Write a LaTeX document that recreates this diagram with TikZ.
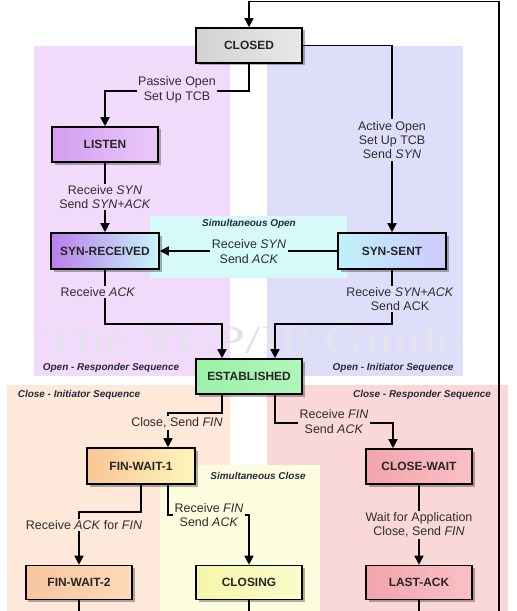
\documentclass[tikz,border=0pt]{standalone}
\usepackage{fontspec}
\setmainfont{Liberation Sans}
\newfontfamily\wmfont{Liberation Serif}
\usetikzlibrary{arrows.meta,shadows}
\definecolor{purplebg}{RGB}{242,218,250}
\definecolor{bluebg}{RGB}{222,222,250}
\definecolor{cyanbg}{RGB}{214,250,250}
\definecolor{peachbg}{RGB}{253,232,218}
\definecolor{pinkbg}{RGB}{251,216,216}
\definecolor{yellowbg}{RGB}{252,252,222}
\definecolor{regtext}{RGB}{40,40,64}
\definecolor{lbltext}{RGB}{45,45,45}
\definecolor{grayL}{RGB}{210,210,210}
\definecolor{grayR}{RGB}{232,232,232}
\definecolor{listenL}{RGB}{212,158,240}
\definecolor{listenR}{RGB}{234,200,248}
\definecolor{synrL}{RGB}{186,126,234}
\definecolor{synrR}{RGB}{200,246,250}
\definecolor{synsL}{RGB}{190,242,250}
\definecolor{synsR}{RGB}{208,200,250}
\definecolor{estL}{RGB}{156,240,168}
\definecolor{estR}{RGB}{178,246,186}
\definecolor{fw1L}{RGB}{250,198,150}
\definecolor{fw1R}{RGB}{252,246,186}
\definecolor{fw2L}{RGB}{248,198,158}
\definecolor{fw2R}{RGB}{252,218,186}
\definecolor{clsL}{RGB}{246,246,170}
\definecolor{clsR}{RGB}{252,252,204}
\definecolor{pinkL}{RGB}{242,164,172}
\definecolor{pinkR}{RGB}{250,192,198}
\definecolor{wmcol}{RGB}{228,226,236}
\begin{document}
\begin{tikzpicture}[x=1bp,y=-1bp,
  state/.style={draw=black, line width=1.6bp, minimum width=106bp, minimum height=35bp,
    inner sep=0pt, font=\bfseries\fontsize{12}{14}\selectfont, text=black!85,
    drop shadow={shadow xshift=2.5bp, shadow yshift=-2.5bp, opacity=0.3, fill=black}},
  lbl/.style={font=\fontsize{12.5}{14.5}\selectfont, text=lbltext, align=center, inner sep=1.5bp},
  reglbl/.style={font=\bfseries\itshape\fontsize{10}{12}\selectfont, text=regtext, inner sep=0pt},
  arr/.style={line width=1.6bp, draw=black, -{Triangle[length=9bp,width=9bp]}},
  ln/.style={line width=1.6bp, draw=black}]
\useasboundingbox (0,0) rectangle (517,611);
\fill[white] (0,0) rectangle (517,611);
% regions
\fill[purplebg] (34,46) rectangle (230,376);
\fill[bluebg] (267,46) rectangle (463,376);
\fill[peachbg] (7,385) rectangle (230,611);
\fill[pinkbg] (267,385) rectangle (508,611);
\fill[cyanbg] (150,216) rectangle (347,278);
\fill[yellowbg] (160,465) rectangle (320,611);
% watermark
\node[font=\wmfont\fontsize{40}{40}\selectfont, text=wmcol, xscale=1.4, inner sep=0pt] (wm) at (252,340) {The TCP/IP Guide};
% region labels
\node[reglbl] (rsimo) at (249,224) {Simultaneous Open};
\node[reglbl] (rsimc) at (258,476) {Simultaneous Close};
\node[reglbl] (rore) at (111,368) {Open - Responder Sequence};
\node[reglbl] (roin) at (393,368) {Open - Initiator Sequence};
\node[reglbl] (rcin) at (79,395) {Close - Initiator Sequence};
\node[reglbl] (rcre) at (422,395) {Close - Responder Sequence};
% states
\node[state, left color=grayL, right color=grayR] (closed) at (249,45.5) {CLOSED};
\node[state, left color=listenL, right color=listenR] (listen) at (105,144.5) {LISTEN};
\node[state, minimum width=108bp, minimum height=36bp, left color=synrL, right color=synrR] (synrcvd) at (105,251) {SYN-RECEIVED};
\node[state, minimum width=108bp, minimum height=36bp, left color=synsL, right color=synsR] (synsent) at (392,251) {SYN-SENT};
\node[state, left color=estL, right color=estR] (est) at (249,376.5) {ESTABLISHED};
\node[state, minimum width=108bp, minimum height=36bp, left color=fw1L, right color=fw1R] (fw1) at (141,466) {FIN-WAIT-1};
\node[state, left color=pinkL, right color=pinkR] (closewait) at (419,466.5) {CLOSE-WAIT};
\node[state, minimum height=34bp, left color=fw2L, right color=fw2R] (fw2) at (79,582.5) {FIN-WAIT-2};
\node[state, minimum height=34bp, left color=clsL, right color=clsR] (closing) at (249,582.5) {CLOSING};
\node[state, minimum height=34bp, left color=pinkL, right color=pinkR] (lastack) at (419,582.5) {LAST-ACK};
% free ends
\coordinate (loopA) at (499,611);
\coordinate (loopB) at (499,1.5);
\coordinate (loopC) at (249,1.5);
\coordinate (endfw2) at (79,611);
\coordinate (endcls) at (249,611);
\coordinate (endla) at (419,611);
% connectors
\draw[arr] (loopA) -- (loopB) -- (loopC) -- (closed.north);
\draw[arr] (closed.south) -- ++(0,27) -| (listen.north);
\draw[arr] (closed.east) -| (synsent.north);
\draw[arr] (listen.south) -- (synrcvd.north);
\draw[arr] (synsent.west) -- (synrcvd.east);
\draw[arr] (synrcvd.south) -- ++(0,54) -| ([xshift=-27bp]est.north);
\draw[arr] (synsent.south) -- ++(0,54) -| ([xshift=26bp]est.north);
\draw[arr] ([xshift=-27bp]est.south) -- ++(0,18) -| ([xshift=27bp]fw1.north);
\draw[arr] ([xshift=26bp]est.south) -- ++(0,28) -| ([xshift=-26bp]closewait.north);
\draw[arr] (fw1.south) -- ++(0,27) -| (fw2.north);
\draw[arr] ([xshift=27bp]fw1.south) -- ++(0,30) -| (closing.north);
\draw[arr] (closewait.south) -- (lastack.north);
\draw[ln] (fw2.south) -- (endfw2);
\draw[ln] (closing.south) -- (endcls);
\draw[ln] (lastack.south) -- (endla);
% labels
\node[lbl, fill=purplebg] (l1) at (177,90) {Passive Open\\Set Up TCB};
\node[lbl, fill=bluebg] (l2) at (392,140) {Active Open\\Set Up TCB\\Send \textit{SYN}};
\node[lbl, fill=purplebg] (l3) at (105,197) {Receive \textit{SYN}\\Send \textit{SYN+ACK}};
\node[lbl, fill=cyanbg] (l4) at (249,251.5) {Receive \textit{SYN}\\Send \textit{ACK}};
\node[lbl, fill=purplebg] (l5) at (98,292) {Receive \textit{ACK}};
\node[lbl, fill=bluebg] (l6) at (400,299) {Receive \textit{SYN+ACK}\\Send ACK};
\node[lbl, fill=peachbg] (l7) at (177,423) {Close, Send \textit{FIN}};
\node[lbl, fill=pinkbg] (l8) at (334,421.5) {Receive \textit{FIN}\\Send \textit{ACK}};
\node[lbl, fill=peachbg] (l9) at (84,525) {Receive \textit{ACK} for \textit{FIN}};
\node[lbl, fill=yellowbg] (l10) at (209,515) {Receive \textit{FIN}\\Send \textit{ACK}};
\node[lbl, fill=pinkbg] (l11) at (419,525) {Wait for Application\\Close, Send \textit{FIN}};
\end{tikzpicture}
\end{document}
